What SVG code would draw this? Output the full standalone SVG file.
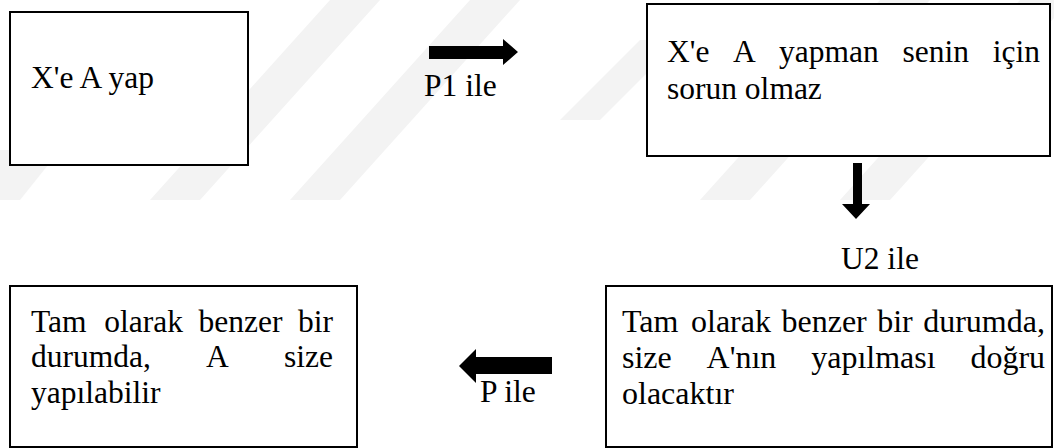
<svg xmlns="http://www.w3.org/2000/svg" width="1054" height="448" viewBox="0 0 1054 448">
<style>
.box{fill:#fff;stroke:#000;stroke-width:2}
text{font-family:'Liberation Serif','Times New Roman',Times,'DejaVu Serif',serif;font-size:31.5px;fill:#000}
.t4{font-size:32px}
.wm{fill:#f3f3f3}
.arr{fill:#000}
</style>
<g id="watermark">
<polygon class="wm" points="150,200 200,200 380,0 330,0"/>
<polygon class="wm" points="290,200 340,200 520,0 470,0"/>
<polygon class="wm" points="700,200 750,200 930,0 880,0"/>
<polygon class="wm" points="840,200 890,200 1054,18 1054,0 1020,0"/>
<polygon class="wm" points="560,120 640,40 680,40 600,120"/>
<polygon class="wm" points="0,150 60,150 20,200 0,200"/>
</g>
<g id="node-xe-a-yap">
<rect class="box" x="10" y="12" width="238" height="153"/>
<text font-family="Liberation Serif, serif" x="31" y="88">X'e A yap</text>
</g>
<g id="node-sorun-olmaz">
<rect class="box" x="647" y="4" width="403" height="152"/>
<text font-family="Liberation Serif, serif" y="62"><tspan x="667">X'e</tspan><tspan x="733">A</tspan><tspan x="779">yapman</tspan><tspan x="902.5">senin</tspan><tspan x="992.7">için</tspan></text>
<text font-family="Liberation Serif, serif" x="667" y="99">sorun olmaz</text>
</g>
<g id="node-dogru-olacaktir">
<rect class="box" x="606" y="286" width="446" height="161"/>
<text class="t4" font-family="Liberation Serif, serif" y="332"><tspan x="622">Tam</tspan><tspan x="691">olarak</tspan><tspan x="781.5">benzer</tspan><tspan x="877.2">bir</tspan><tspan x="923.2">durumda,</tspan></text>
<text class="t4" font-family="Liberation Serif, serif" y="368"><tspan x="622">size</tspan><tspan x="706.6">A'nın</tspan><tspan x="811.2">yapılması</tspan><tspan x="970.4">doğru</tspan></text>
<text class="t4" font-family="Liberation Serif, serif" x="622" y="404">olacaktır</text>
</g>
<g id="node-yapilabilir">
<rect class="box" x="10" y="286" width="347" height="161"/>
<text font-family="Liberation Serif, serif" y="332"><tspan x="31">Tam</tspan><tspan x="104.3">olarak</tspan><tspan x="198.6">benzer</tspan><tspan x="298.1">bir</tspan></text>
<text font-family="Liberation Serif, serif" y="367"><tspan x="31">durumda,</tspan><tspan x="206.1">A</tspan><tspan x="284">size</tspan></text>
<text font-family="Liberation Serif, serif" x="31" y="403">yapılabilir</text>
</g>
<g id="connectors">
<polygon class="arr" points="429,46 503,46 503,39 518,52 503,65 503,59 429,59"/>
<text font-family="Liberation Serif, serif" x="424" y="96">P1 ile</text>
<polygon class="arr" points="853,163 862,163 862,204 870,204 856,219 842,204 853,204"/>
<text font-family="Liberation Serif, serif" x="841" y="269">U2 ile</text>
<polygon class="arr" points="552,357 476,357 476,349 459,366 476,383 476,374 552,374"/>
<text font-family="Liberation Serif, serif" x="480" y="402">P ile</text>
</g>
</svg>
